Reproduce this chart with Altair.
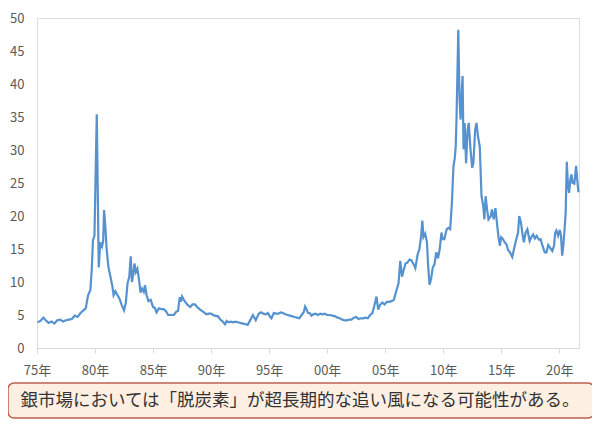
import altair as alt
import pandas as pd

# Silver price (USD/oz)
years = [
    1975.05, 1975.3, 1975.55, 1975.75, 1976.0, 1976.25, 1976.5, 1976.75, 1977.0, 1977.25,
    1977.5, 1977.75, 1978.0, 1978.25, 1978.5, 1978.75, 1979.0, 1979.2, 1979.4, 1979.6,
    1979.72, 1979.82, 1979.95, 1980.15, 1980.32, 1980.45, 1980.6, 1980.7, 1980.78, 1980.88,
    1981.0, 1981.15, 1981.35, 1981.5, 1981.6, 1981.75, 1981.9, 1982.1, 1982.3, 1982.5,
    1982.65, 1982.8, 1982.95, 1983.08, 1983.18, 1983.3, 1983.4, 1983.52, 1983.65, 1983.8,
    1983.92, 1984.05, 1984.2, 1984.3, 1984.45, 1984.6, 1984.8, 1985.0, 1985.15, 1985.3,
    1985.5, 1985.7, 1985.9, 1986.1, 1986.3, 1986.5, 1986.8, 1987.0, 1987.15, 1987.3,
    1987.4, 1987.5, 1987.65, 1987.85, 1988.0, 1988.2, 1988.4, 1988.6, 1988.8, 1989.0,
    1989.3, 1989.6, 1989.8, 1990.0, 1990.3, 1990.6, 1990.8, 1991.0, 1991.2, 1991.35,
    1991.5, 1991.7, 1991.9, 1992.1, 1992.3, 1992.5, 1992.75, 1993.0, 1993.15, 1993.4,
    1993.6, 1993.85, 1994.1, 1994.3, 1994.5, 1994.7, 1994.9, 1995.05, 1995.2, 1995.4,
    1995.6, 1995.8, 1996.0, 1996.2, 1996.4, 1996.6, 1996.8, 1997.0, 1997.2, 1997.4,
    1997.6, 1997.8, 1998.0, 1998.1, 1998.2, 1998.35, 1998.5, 1998.65, 1998.8, 1999.0,
    1999.2, 1999.4, 1999.6, 1999.8, 2000.0, 2000.2, 2000.45, 2000.7, 2000.9, 2001.1,
    2001.3, 2001.5, 2001.7, 2001.9, 2002.1, 2002.3, 2002.5, 2002.7, 2002.9, 2003.1,
    2003.3, 2003.5, 2003.7, 2003.9, 2004.05, 2004.25, 2004.4, 2004.55, 2004.75, 2004.95,
    2005.15, 2005.35, 2005.55, 2005.75, 2005.95, 2006.15, 2006.3, 2006.45, 2006.55, 2006.75,
    2006.9, 2007.1, 2007.25, 2007.45, 2007.6, 2007.8, 2007.95, 2008.1, 2008.2, 2008.3,
    2008.45, 2008.6, 2008.7, 2008.82, 2008.95, 2009.1, 2009.25, 2009.4, 2009.55, 2009.7,
    2009.85, 2009.95, 2010.1, 2010.3, 2010.45, 2010.6, 2010.75, 2010.88, 2011.0, 2011.08,
    2011.15, 2011.3, 2011.4, 2011.5, 2011.6, 2011.67, 2011.75, 2011.85, 2011.97, 2012.1,
    2012.2, 2012.35, 2012.5, 2012.6, 2012.75, 2012.87, 2013.0, 2013.15, 2013.3, 2013.45,
    2013.55, 2013.65, 2013.78, 2013.9, 2014.1, 2014.2, 2014.35, 2014.5, 2014.6, 2014.75,
    2014.88, 2015.0, 2015.15, 2015.3, 2015.45, 2015.6, 2015.75, 2015.95, 2016.1, 2016.3,
    2016.45, 2016.55, 2016.7, 2016.85, 2016.95, 2017.1, 2017.25, 2017.45, 2017.6, 2017.75,
    2017.9, 2018.05, 2018.25, 2018.4, 2018.55, 2018.75, 2018.9, 2019.05, 2019.2, 2019.4,
    2019.55, 2019.65, 2019.75, 2019.9, 2020.05, 2020.15, 2020.25, 2020.35, 2020.45, 2020.55,
    2020.65, 2020.75, 2020.85, 2020.95, 2021.05, 2021.15, 2021.3, 2021.45, 2021.55, 2021.65,
]
prices = [
    3.9, 4.1, 4.6, 4.2, 3.8, 4.0, 3.7, 4.2, 4.3, 4.0,
    4.2, 4.3, 4.4, 4.9, 4.7, 5.3, 5.7, 6.0, 8.0, 8.8,
    12.0, 16.3, 17.0, 35.4, 12.2, 16.0, 15.4, 16.2, 20.9, 18.6,
    15.0, 12.3, 10.6, 9.3, 8.0, 8.6, 8.1, 7.5, 6.5, 5.7,
    6.8, 9.8, 10.8, 13.9, 10.0, 11.2, 12.8, 11.5, 12.0, 10.2,
    8.4, 9.0, 8.5, 9.5, 8.0, 7.1, 7.3, 6.2, 6.1, 5.4,
    6.0, 5.9, 5.9, 5.6, 5.0, 5.0, 5.0, 5.5, 5.6, 7.7,
    7.0, 7.8, 7.3, 6.8, 6.5, 6.2, 6.6, 6.6, 6.2, 5.9,
    5.5, 5.1, 5.2, 5.2, 4.9, 4.8, 4.3, 4.0, 3.6, 4.1,
    3.9, 4.0, 3.9, 4.0, 3.9, 3.8, 3.7, 3.6, 3.5, 4.3,
    5.0, 4.2, 5.2, 5.4, 5.2, 5.1, 5.3, 4.8, 4.5, 5.3,
    5.2, 5.2, 5.4, 5.3, 5.1, 5.0, 4.9, 4.8, 4.7, 4.6,
    4.5, 5.0, 5.5, 6.3, 6.0, 5.3, 5.3, 4.9, 5.1, 5.2,
    5.0, 5.2, 5.1, 5.2, 5.0, 5.0, 4.9, 4.8, 4.6, 4.5,
    4.3, 4.2, 4.2, 4.3, 4.3, 4.6, 4.7, 4.4, 4.5, 4.5,
    4.6, 4.5, 5.0, 5.3, 6.3, 7.8, 5.8, 6.5, 6.9, 6.6,
    7.0, 7.0, 7.1, 7.3, 8.6, 9.8, 13.2, 10.8, 11.5, 12.8,
    12.9, 13.4, 13.3, 12.7, 12.1, 14.2, 15.0, 17.0, 19.3, 16.8,
    17.3, 16.0, 12.5, 9.6, 10.4, 12.2, 12.7, 14.5, 13.6, 15.0,
    17.5, 16.5, 16.5, 18.0, 18.2, 18.0, 22.0, 27.5, 28.8, 30.6,
    35.0, 48.2, 38.0, 34.6, 39.0, 41.2, 30.1, 34.1, 28.0, 33.0,
    34.1, 30.1, 27.3, 28.0, 33.0, 34.1, 32.0, 30.5, 23.0, 21.5,
    19.5, 23.0, 21.0, 19.5, 20.0, 21.0, 19.5, 21.2, 19.5, 17.0,
    15.5, 16.8, 16.5, 16.0, 15.7, 14.8, 14.5, 13.8, 15.0, 16.5,
    17.5, 20.0, 19.0, 17.0, 16.0, 17.5, 18.0, 16.2, 16.8, 17.2,
    16.6, 17.0, 16.4, 16.5, 15.5, 14.5, 14.5, 15.6, 15.2, 14.7,
    15.5, 17.5, 17.8, 17.0, 17.9, 17.0, 14.0, 15.5, 17.8, 20.5,
    28.2, 24.5, 23.5, 25.5, 26.3, 25.0, 24.9, 27.6, 25.5, 23.6,
]

x_tick_values = [1975, 1980, 1985, 1990, 1995, 2000, 2005, 2010, 2015, 2020]
x_tick_labels = ["75年", "80年", "85年", "90年", "95年", "00年", "05年", "10年", "15年", "20年"]
y_tick_values = [0, 5, 10, 15, 20, 25, 30, 35, 40, 45, 50]
note_text = "銀市場においては「脱炭素」が超長期的な追い風になる可能性がある。"

df = pd.DataFrame({"year": years, "price": prices})

label_expr = "[{}][indexof([{}], datum.value)]".format(
    ",".join("'{}'".format(s) for s in x_tick_labels),
    ",".join(str(v) for v in x_tick_values),
)

FONT = "Noto Sans CJK JP"

line = alt.Chart(df).mark_line(color="#5592CF", strokeWidth=2.2).encode(
    x=alt.X(
        "year:Q",
        scale=alt.Scale(domain=[1975, 2021.7], nice=False, zero=False),
        axis=alt.Axis(
            values=x_tick_values,
            labelExpr=label_expr,
            title=None,
            grid=False,
            domainColor="#d9d9d9",
            tickColor="#d9d9d9",
            tickSize=5,
            labelPadding=11,
            labelFont=FONT,
            labelFontSize=13,
            labelColor="#595959",
            labelFlush=False,
        ),
    ),
    y=alt.Y(
        "price:Q",
        scale=alt.Scale(domain=[0, 50], nice=False),
        axis=alt.Axis(
            values=y_tick_values,
            title=None,
            grid=False,
            domain=False,
            ticks=False,
            tickSize=0,
            labelPadding=13,
            labelFont=FONT,
            labelFontSize=13,
            labelColor="#595959",
        ),
    ),
)

box = alt.Chart(pd.DataFrame({"t": [note_text]})).mark_rect(
    fill="#FDEFE2", stroke="#C0604D", strokeWidth=1.5, cornerRadius=6
).encode(
    x=alt.value(-29), x2=alt.value(557), y=alt.value(365), y2=alt.value(400)
)

note = alt.Chart(pd.DataFrame({"t": [note_text]})).mark_text(
    font=FONT, fontSize=17.5, color="#333333", align="center", baseline="middle"
).encode(
    text="t:N", x=alt.value(263), y=alt.value(383)
)

chart = alt.layer(line, box, note).properties(
    width=542,
    height=330,
    autosize=alt.AutoSizeParams(type="none"),
    padding={"left": 29, "top": 10, "right": 13, "bottom": 75},
).configure_view(stroke=None).configure(background="white")

chart.save("out.html", embed_options={"renderer": "svg", "actions": False})
